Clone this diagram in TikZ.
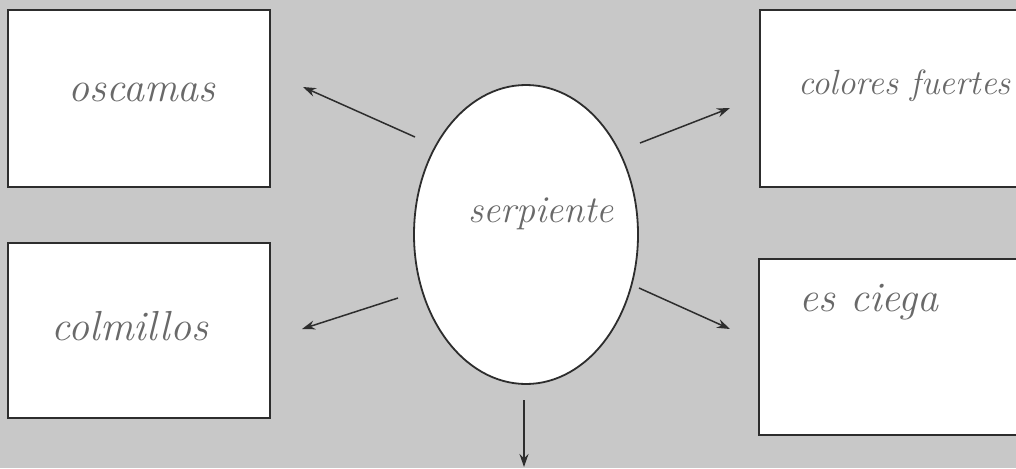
\documentclass[tikz,border=0pt]{standalone}
\usetikzlibrary{arrows.meta,shapes.geometric}
\definecolor{bg}{RGB}{200,200,200}
\definecolor{ink}{RGB}{105,105,105}
\definecolor{edge}{RGB}{45,45,45}
\begin{document}
\begin{tikzpicture}[x=1pt,y=-1pt,
  card/.style={draw=edge,line width=1.8pt,fill=white},
  hand/.style={text=ink,font=\fontsize{42}{46}\selectfont\itshape,inner sep=0pt},
  arr/.style={draw=edge,line width=1.5pt,-{Stealth[length=13pt,width=9pt]}}]
\useasboundingbox (0,0) rectangle (1016,468);
\clip (0,0) rectangle (1016,468);
\fill[bg] (0,0) rectangle (1016,468);
% boxes
\draw[card] (8,10) rectangle (270,187);
\draw[card] (8,243) rectangle (270,418);
\draw[card] (760,10) rectangle (1030,187);
\draw[card] (759,259) rectangle (1030,435);
\node[card,ellipse,minimum width=224pt,minimum height=299pt,inner sep=0pt] (ell) at (526,234.5) {};
% texts
\node[hand] (t1) at (142,92) {oscamas};
\node[hand] (t2) at (130,326) {colmillos};
\node[hand,anchor=west,font=\fontsize{35}{40}\selectfont\itshape] (t3) at (798,86) {colores fuertes};
\node[hand] (t4) at (869,302) {es ciega};
\node[hand,font=\fontsize{38}{42}\selectfont\itshape] (t5) at (541,214) {serpiente};
% arrows
\coordinate (a1s) at (415,137); \coordinate (a1e) at (303,87);
\coordinate (a2s) at (640,143); \coordinate (a2e) at (730,108);
\coordinate (a3s) at (398,298); \coordinate (a3e) at (302,329);
\coordinate (a4s) at (639,288); \coordinate (a4e) at (730,329);
\coordinate (a5s) at (524,400); \coordinate (a5e) at (524,467);
\draw[arr] (a1s) -- (a1e);
\draw[arr] (a2s) -- (a2e);
\draw[arr] (a3s) -- (a3e);
\draw[arr] (a4s) -- (a4e);
\draw[arr] (a5s) -- (a5e);
\end{tikzpicture}
\end{document}
